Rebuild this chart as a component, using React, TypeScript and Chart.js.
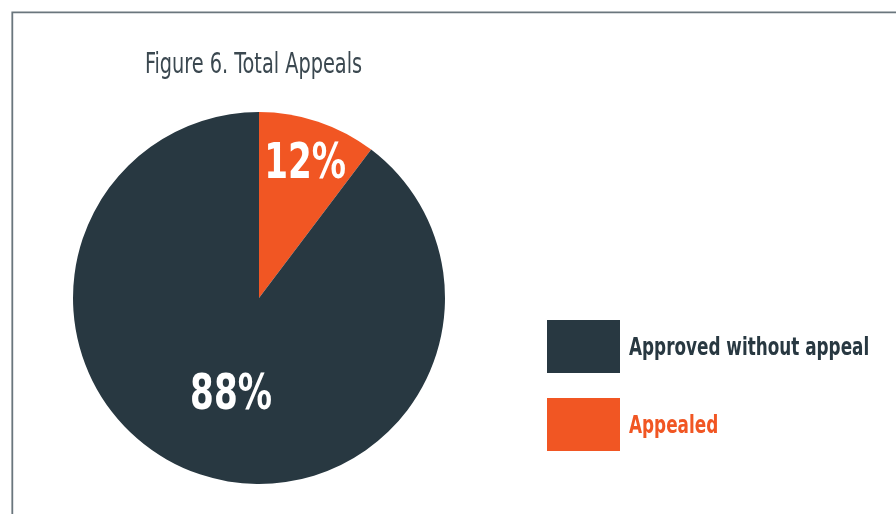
import React, { useEffect, useRef } from "react";
import { Chart, registerables } from "chart.js";

Chart.register(...registerables);

// Data (slice order follows the drawing: clockwise from 12 o'clock)
const categories = ["Appealed", "Approved without appeal"];
const sliceShares = [10.3, 89.7]; // shares as drawn in the picture
const percentLabels = ["12%", "88%"]; // printed labels
const sliceColors = ["#f15623", "#283841"];
const legendOrder = [1, 0]; // legend lists "Approved without appeal" first
const titleText = "Figure 6. Total Appeals";

const NARROW = "'DejaVu Sans Condensed', 'Liberation Sans Narrow', sans-serif";

// draw text horizontally condensed by a fixed factor
function condensedText(ctx: any, text: string, x: number, y: number, factor: number) {
  const w = ctx.measureText(text).width;
  ctx.fillText(text, x, y, w * factor);
}

const decorPlugin = {
  id: "decor",
  beforeDraw(chart: any) {
    const ctx = chart.ctx;
    ctx.save();
    ctx.fillStyle = "#ffffff";
    ctx.fillRect(0, 0, chart.width, chart.height);
    // frame (top and left edges visible)
    ctx.strokeStyle = "#6a767d";
    ctx.lineWidth = 1.8;
    ctx.beginPath();
    ctx.moveTo(12.3, chart.height + 2);
    ctx.lineTo(12.3, 12.3);
    ctx.lineTo(chart.width + 2, 12.3);
    ctx.stroke();
    // title
    ctx.fillStyle = "#3b4850";
    ctx.font = `29px ${NARROW}`;
    ctx.textAlign = "center";
    ctx.textBaseline = "alphabetic";
    condensedText(ctx, titleText, 253.5, 73, 0.74);
    ctx.restore();
  },
  afterDraw(chart: any) {
    const ctx = chart.ctx;
    const meta = chart.getDatasetMeta(0);
    const radiusFactors = [0.78, 0.52];
    const angleShift = [0, -0.03];
    ctx.save();
    // percentage labels
    ctx.fillStyle = "#ffffff";
    ctx.font = `bold 50px ${NARROW}`;
    ctx.textAlign = "center";
    ctx.textBaseline = "alphabetic";
    meta.data.forEach((arc: any, i: number) => {
      const p = arc.getProps(["x", "y", "startAngle", "endAngle", "outerRadius"], true);
      const mid = (p.startAngle + p.endAngle) / 2 + angleShift[i];
      const r = p.outerRadius * radiusFactors[i];
      condensedText(ctx, percentLabels[i], p.x + Math.cos(mid) * r, p.y + Math.sin(mid) * r + 18, 0.76);
    });
    // legend
    const boxX = 547;
    const boxW = 73;
    const boxH = 53;
    const rowTops = [320, 398];
    ctx.font = `bold 24px ${NARROW}`;
    ctx.textAlign = "left";
    ctx.textBaseline = "alphabetic";
    legendOrder.forEach((idx, row) => {
      const y = rowTops[row];
      ctx.fillStyle = sliceColors[idx];
      ctx.fillRect(boxX, y, boxW, boxH);
      ctx.fillStyle = idx === 0 ? "#f15623" : "#283841";
      condensedText(ctx, categories[idx], 629, y + 35, 0.78);
    });
    ctx.restore();
  },
};

export default function App() {
  const ref = useRef<HTMLCanvasElement>(null);
  useEffect(() => {
    document.body.style.margin = "0";
    const chart = new Chart(ref.current!, {
      type: "pie",
      data: {
        labels: categories,
        datasets: [
          {
            data: sliceShares,
            backgroundColor: sliceColors,
            borderWidth: 0,
          },
        ],
      },
      options: {
        responsive: false,
        animation: false,
        devicePixelRatio: 1,
        layout: { padding: { left: 73, top: 112, right: 451, bottom: 30 } },
        plugins: {
          legend: { display: false },
          title: { display: false },
          tooltip: { enabled: false },
        },
      },
      plugins: [decorPlugin],
    });
    return () => chart.destroy();
  }, []);
  return (
    <div style={{ position: "fixed", left: 0, top: 0, width: 896, height: 514 }}>
      <canvas ref={ref} width={896} height={514} />
    </div>
  );
}
